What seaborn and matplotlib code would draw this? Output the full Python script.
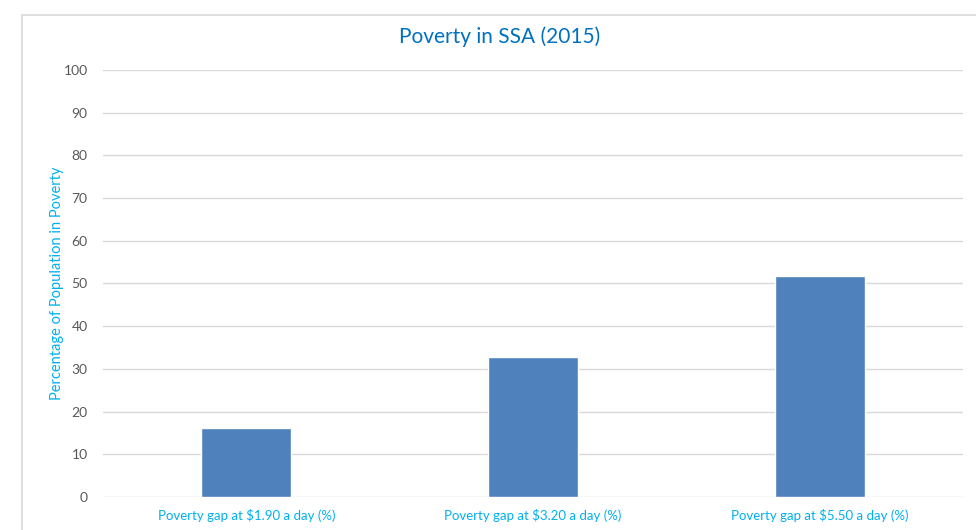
import matplotlib
matplotlib.use("Agg")
import matplotlib.pyplot as plt
from matplotlib.lines import Line2D
import seaborn as sns
import pandas as pd

## Data
categories = [
    "Poverty gap at $1.90 a day (%)",
    "Poverty gap at $3.20 a day (%)",
    "Poverty gap at $5.50 a day (%)",
]
values = [16.2, 32.7, 51.8]

df = pd.DataFrame({"Indicator": categories, "Value": values})

## Style
sns.set_theme(style="white")
plt.rcParams["font.family"] = ["Lato", "DejaVu Sans"]

fig = plt.figure(figsize=(9.76, 5.30), dpi=100)
ax = fig.add_axes([0.1055, 0.0623, 0.881, 0.8057])

sns.barplot(data=df, x="Indicator", y="Value", color="#4F81BD",
            saturation=1, width=0.314, ax=ax)

ax.set_ylim(0, 100)
ax.set_xlim(-0.5, 2.5)
ax.set_yticks(range(0, 101, 10))
ax.yaxis.grid(True, color="#D9D9D9", linewidth=1)
ax.set_axisbelow(True)
for s in ax.spines.values():
    s.set_visible(False)

ax.tick_params(axis="y", length=0, pad=11, labelsize=10, labelcolor="#595959")
ax.tick_params(axis="x", length=0, pad=9, labelsize=9.5, labelcolor="#00B0F0")

ax.set_xlabel("")
ax.set_ylabel("Percentage of Population in Poverty", color="#00B0F0", fontsize=10.5)
ax.yaxis.set_label_coords(-0.045, 0.5)

fig.text(0.512, 0.931, "Poverty in SSA (2015)", ha="center", va="center",
         fontsize=15, color="#0070C0")

# chart area border (top and left edges visible)
fig.add_artist(Line2D([22 / 976, 22 / 976], [0, 1 - 15 / 530], color="#D9D9D9", lw=1.2))
fig.add_artist(Line2D([22 / 976, 1], [1 - 15 / 530, 1 - 15 / 530], color="#D9D9D9", lw=1.2))

fig.savefig("out.png", dpi=100, facecolor="white")
